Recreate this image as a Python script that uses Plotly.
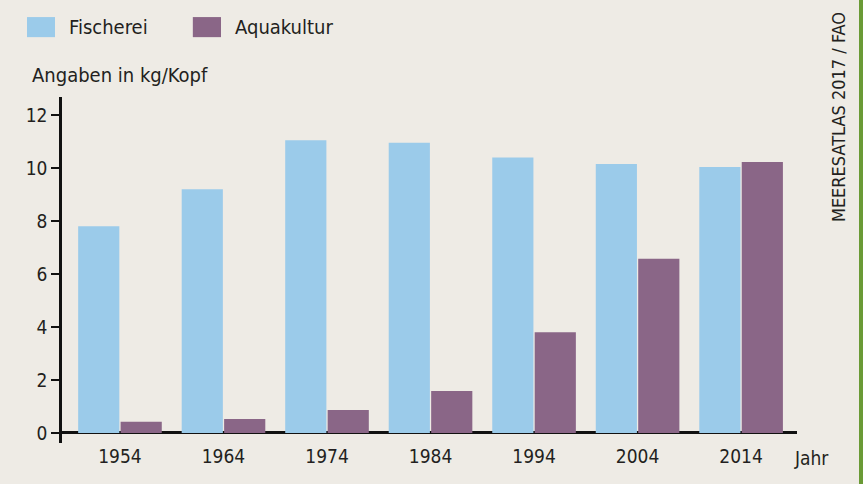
import plotly.graph_objects as go

years = ["1954", "1964", "1974", "1984", "1994", "2004", "2014"]
fischerei = [7.8, 9.2, 11.05, 10.95, 10.4, 10.15, 10.04]
aquakultur = [0.42, 0.53, 0.87, 1.58, 3.8, 6.57, 10.23]
series_names = ["Fischerei", "Aquakultur"]
colors = ["#9bcbea", "#8a6687"]
y_ticks = [0, 2, 4, 6, 8, 10, 12]

FONT = "DejaVu Sans Condensed, Liberation Sans Narrow, sans-serif"
TXT = "#231f20"

fig = go.Figure()
fig.add_trace(go.Bar(x=years, y=fischerei, name=series_names[0],
                     marker=dict(color=colors[0], line=dict(width=0))))
fig.add_trace(go.Bar(x=years, y=aquakultur, name=series_names[1],
                     marker=dict(color=colors[1], line=dict(width=0))))

fig.update_layout(
    width=863, height=484,
    margin=dict(l=62, r=66, t=97, b=41),
    paper_bgcolor="#eeebe5",
    plot_bgcolor="#eeebe5",
    barmode="group",
    bargap=0.18,
    bargroupgap=0.03,
    showlegend=False,
    font=dict(family=FONT, size=19, color=TXT),
    xaxis=dict(
        type="category",
        range=[-0.56, 6.54],
        showgrid=False, showline=False, ticks="",
        tickfont=dict(family=FONT, size=19, color=TXT),
        zeroline=False,
    ),
    yaxis=dict(
        range=[-0.38, 12.68],
        tickvals=y_ticks,
        showgrid=False,
        showline=True, linecolor="#111111", linewidth=2.5,
        ticks="outside", ticklen=8, tickwidth=2, tickcolor="#111111",
        zeroline=True, zerolinecolor="#111111", zerolinewidth=2.5,
        tickfont=dict(family=FONT, size=19, color=TXT),
    ),
)

# Legend swatches and labels
sw = [(-0.0476, -0.0095), (0.178, 0.2163)]
lab_x = [0.0068, 0.2327]
for i in range(2):
    fig.add_shape(type="rect", xref="paper", yref="paper",
                  x0=sw[i][0], x1=sw[i][1], y0=1.173, y1=1.231,
                  fillcolor=colors[i], line=dict(width=0))
    fig.add_annotation(xref="paper", yref="paper", x=lab_x[i], y=1.202,
                       text=series_names[i], showarrow=False,
                       xanchor="left", yanchor="middle",
                       font=dict(family=FONT, size=20, color=TXT))

fig.add_annotation(xref="paper", yref="paper", x=-0.0435, y=1.0636,
                   text="Angaben in kg/Kopf", showarrow=False,
                   xanchor="left", yanchor="middle",
                   font=dict(family=FONT, size=20, color=TXT))

fig.add_annotation(xref="paper", yref="paper", x=0.993, y=-0.043,
                   text="Jahr", showarrow=False,
                   xanchor="left", yanchor="middle",
                   font=dict(family=FONT, size=19, color=TXT))

fig.add_annotation(xref="paper", yref="paper", x=1.0558, y=0.942,
                   text="MEERESATLAS 2017 / FAO", showarrow=False,
                   textangle=-90, xanchor="center", yanchor="middle",
                   font=dict(family=FONT, size=18, color=TXT))

# green edge on the right
fig.add_shape(type="rect", xref="paper", yref="paper",
              x0=(859 - 62) / 735, x1=(870 - 62) / 735, y0=-0.2, y1=1.4,
              fillcolor="#6a9a35", line=dict(width=0), layer="above")

fig.write_html("out.html", config={"displayModeBar": False},
               post_script="document.body.style.margin='0';document.body.style.padding='0';")
